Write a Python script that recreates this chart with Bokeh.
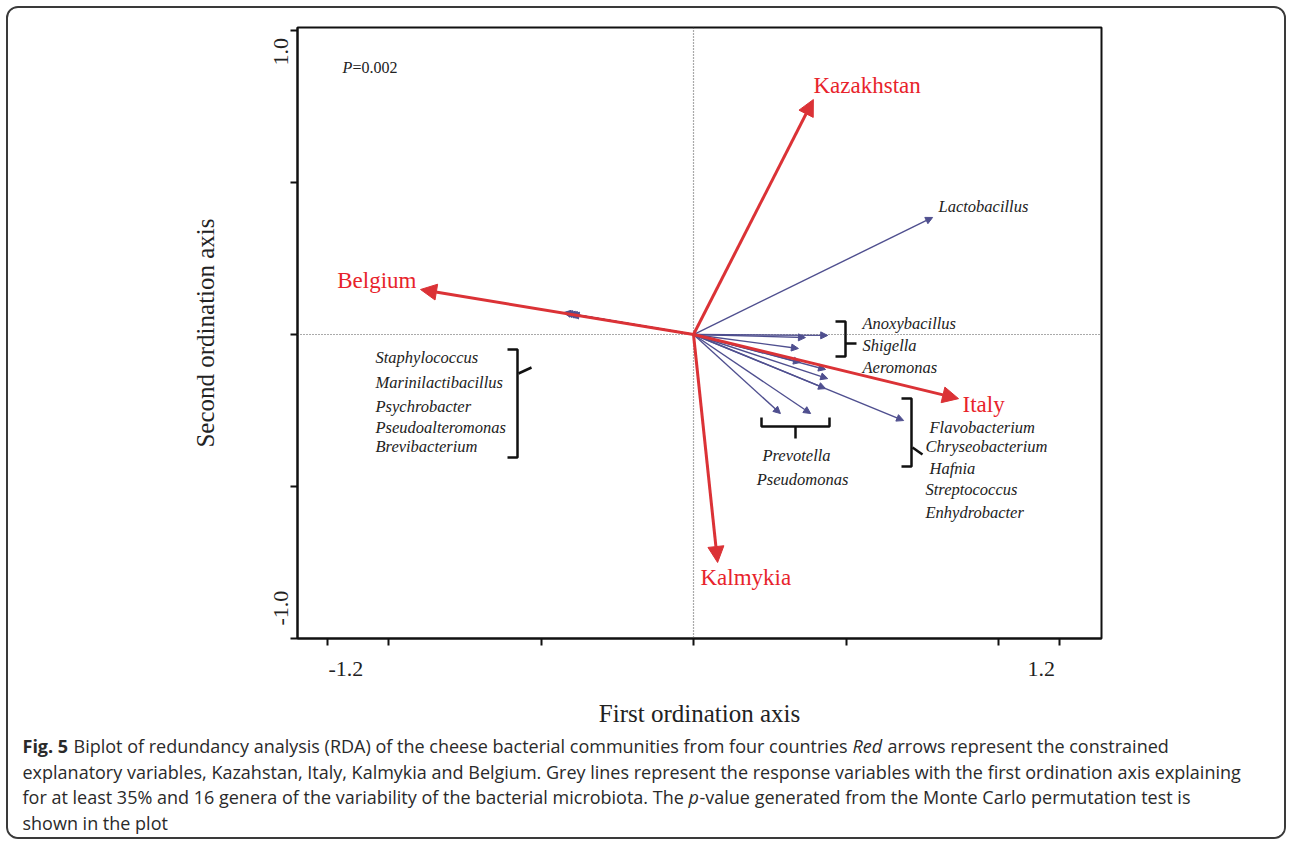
from bokeh.plotting import figure
from bokeh.layouts import column
from bokeh.models import (Arrow, NormalHead, ColumnDataSource, Span,
                          FixedTicker, Range1d)
from bokeh.embed import file_html
from bokeh.resources import INLINE
from bokeh.core.properties import value

# ---------------- data ----------------
countries = ["Kazakhstan", "Italy", "Kalmykia", "Belgium"]
country_x = [0.393, 0.869, 0.079, -0.895]
country_y = [0.773, -0.211, -0.750, 0.148]

genera = ["Lactobacillus", "Anoxybacillus", "Shigella", "Aeromonas",
          "Flavobacterium", "Chryseobacterium", "Hafnia", "Streptococcus",
          "Enhydrobacter", "Prevotella", "Pseudomonas", "Staphylococcus",
          "Marinilactibacillus", "Psychrobacter", "Pseudoalteromonas",
          "Brevibacterium"]
genus_x = [0.784, 0.440, 0.367, 0.344, 0.689, 0.433, 0.440, 0.433, 0.351,
           0.285, 0.384, -0.426, -0.420, -0.412, -0.405, -0.398]
genus_y = [0.385, -0.003, -0.010, -0.046, -0.283, -0.178, -0.145, -0.115,
           -0.092, -0.260, -0.260, 0.072, 0.071, 0.069, 0.068, 0.066]

x_minor_ticks = [-1.2, -1.0, -0.5, 0.0, 0.5, 1.0, 1.2]
y_minor_ticks = [-1.0, -0.5, 0.0, 0.5, 1.0]
x_tick_labels = ["-1.2", "1.2"]
y_tick_labels = ["-1.0", "1.0"]
p_value_text = ["P", "=0.002"]

caption_lines = [
    [("Fig. 5", "bold"),
     ("Biplot of redundancy analysis (RDA) of the cheese bacterial communities from four countries", "normal"),
     ("Red", "italic"),
     ("arrows represent the constrained", "normal")],
    [("explanatory variables, Kazahstan, Italy, Kalmykia and Belgium. Grey lines represent the response variables with the first ordination axis explaining", "normal")],
    [("for at least 35% and 16 genera of the variability of the bacterial microbiota. The", "normal"),
     ("p", "italic"),
     ("-value generated from the Monte Carlo permutation test is", "normal")],
    [("shown in the plot", "normal")],
]

# ---------------- layout ----------------
O = 8                                  # page offset of the figures (margin + border)
W = 1276
HM, HC = 722, 107                      # main figure / caption heights
FL, FR, FT, FB = 297, 1101, 27, 638    # frame edges in page pixels
XMIN, XMAX = -1.2984, 1.3377
YMIN, YMAX = -1.0, 1.0099


def X(px):  # page pixel -> data x
    return XMIN + (px - FL) / (FR - FL) * (XMAX - XMIN)


def Y(py):  # page pixel -> data y
    return YMAX - (py - FT) / (FB - FT) * (YMAX - YMIN)


SERIF = "Liberation Serif"
SANS = "Open Sans"
RED_LINE = "#db3236"
RED_TEXT = "#e8232b"
BLUE = "#4f4f8f"

p = figure(width=W, height=HM, x_range=(XMIN, XMAX), y_range=(YMIN, YMAX),
           output_backend="svg", toolbar_location=None,
           min_border_left=FL - O, min_border_right=W - (FR - O),
           min_border_top=FT - O, min_border_bottom=HM - (FB - O),
           x_axis_label="First ordination axis",
           y_axis_label="Second ordination axis")
p.frame_align = False
p.grid.visible = False
p.outline_line_color = "#111111"
p.outline_line_width = 2
p.background_fill_color = "white"
p.border_fill_color = "white"

# axes: minor ticks are the drawn ticks, major positions carry the labels
x_lab_pos = [-1.14, 1.14]
y_lab_pos = [-0.90, 0.93]
p.xaxis.ticker = FixedTicker(ticks=x_lab_pos, minor_ticks=x_minor_ticks)
p.yaxis.ticker = FixedTicker(ticks=y_lab_pos, minor_ticks=y_minor_ticks)
p.xaxis.major_label_overrides = dict(zip(x_lab_pos, x_tick_labels))
p.yaxis.major_label_overrides = dict(zip(y_lab_pos, y_tick_labels))
p.yaxis.major_label_orientation = "vertical"
for ax in (p.xaxis, p.yaxis):
    ax.axis_line_color = "#111111"
    ax.axis_line_width = 2
    ax.major_tick_line_color = None
    ax.major_tick_out = 7
    ax.major_tick_in = 0
    ax.minor_tick_line_color = "#111111"
    ax.minor_tick_line_width = 2
    ax.minor_tick_out = 7
    ax.minor_tick_in = 0
    ax.major_label_text_font = SERIF
    ax.major_label_text_font_size = "22px"
    ax.major_label_text_color = "#222222"
    ax.axis_label_text_font = SERIF
    ax.axis_label_text_font_size = "25px"
    ax.axis_label_text_font_style = "normal"
    ax.axis_label_text_color = "#222222"
p.xaxis.major_label_standoff = 16
p.yaxis.major_label_standoff = 2
p.xaxis.axis_label_standoff = 21
p.yaxis.axis_label_standoff = 53

# dotted axes through origin
p.add_layout(Span(location=0, dimension="height", line_color="#555555",
                  line_dash="1 2", line_width=1.2))
p.add_layout(Span(location=0, dimension="width", line_color="#555555",
                  line_dash="1 2", line_width=1.2))

# genus arrows (response variables)
gsrc = ColumnDataSource(dict(x0=[0.0] * len(genera), y0=[0.0] * len(genera),
                             x1=genus_x, y1=genus_y))
p.add_layout(Arrow(source=gsrc, x_start="x0", y_start="y0", x_end="x1", y_end="y1",
                   line_color=BLUE, line_width=1.4,
                   end=NormalHead(size=7, fill_color=BLUE, line_color=BLUE, line_width=1)))

# country arrows (explanatory variables)
csrc = ColumnDataSource(dict(x0=[0.0] * len(countries), y0=[0.0] * len(countries),
                             x1=country_x, y1=country_y))
p.add_layout(Arrow(source=csrc, x_start="x0", y_start="y0", x_end="x1", y_end="y1",
                   line_color=RED_LINE, line_width=3,
                   end=NormalHead(size=16, fill_color=RED_LINE, line_color=RED_LINE,
                                  line_width=1)))

# country labels
country_lab = dict(
    x=[X(813), X(962), X(700), X(416)],
    y=[Y(85), Y(404), Y(577), Y(280)],
    align=["left", "left", "left", "right"],
)
p.text(x=country_lab["x"], y=country_lab["y"], text=countries,
       text_align=country_lab["align"], text_baseline="middle",
       text_font=value(SERIF), text_font_size="23px", text_color=RED_TEXT)

# genus labels
genus_lab = dict(
    x=[X(938), X(862), X(862), X(862), X(929), X(925), X(929), X(925), X(925),
       X(796), X(802), X(375), X(375), X(375), X(375), X(375)],
    y=[Y(206), Y(323), Y(345), Y(367), Y(427), Y(446), Y(468), Y(489), Y(512),
       Y(455), Y(479), Y(357), Y(382), Y(406), Y(427), Y(446)],
    align=["left"] * 9 + ["center", "center"] + ["left"] * 5,
)
p.text(x=genus_lab["x"], y=genus_lab["y"], text=genera,
       text_align=genus_lab["align"], text_baseline="middle",
       text_font=value(SERIF), text_font_style="italic",
       text_font_size="16.5px", text_color="#222222")

# group brackets
brackets = [
    [(507, 349), (517, 349), (517, 457), (507, 457)],
    [(518, 373), (531, 367)],
    [(835, 321), (845, 321), (845, 356), (835, 356)],
    [(845, 343), (856, 343)],
    [(761, 417), (761, 426), (829, 426), (829, 417)],
    [(795, 426), (795, 438)],
    [(901, 398), (911, 398), (911, 466), (901, 466)],
    [(912, 447), (922, 454)],
]
p.multi_line(xs=[[X(a) for a, b in br] for br in brackets],
             ys=[[Y(b) for a, b in br] for br in brackets],
             line_color="#111111", line_width=2.5)

# P value
p.text(x=[X(342)], y=[Y(67)], text=[p_value_text[0]], text_baseline="middle",
       text_font=value(SERIF), text_font_style="italic", text_font_size="16px",
       text_color="#222222")
p.text(x=[X(352)], y=[Y(67)], text=[p_value_text[1]], text_baseline="middle",
       text_font=value(SERIF), text_font_size="16px", text_color="#222222")

# ---------------- caption (second figure, pixel coordinates) ----------------
c = figure(width=W, height=HC, x_range=Range1d(0, W), y_range=Range1d(HC, 0),
           output_backend="svg", toolbar_location=None, min_border=0,
           x_axis_location=None, y_axis_location=None)
c.frame_align = False
c.grid.visible = False
c.outline_line_color = None
c.background_fill_color = "white"
c.border_fill_color = "white"

seg_x = [[22, 73, 852, 887], [22], [22, 688, 699], [22]]
line_y = [745, 771, 796, 822]
cap_top = O + HM
for segs, xs, ly in zip(caption_lines, seg_x, line_y):
    for (txt, style), sx in zip(segs, xs):
        c.text(x=[sx - O], y=[ly - cap_top], text=[txt], text_baseline="middle",
               text_align="left", text_font=value(SANS), text_font_style=style,
               text_font_size="18px", text_color="#2a2a2a")

layout = column(p, c, spacing=0,
                styles={"margin": "6px", "border": "2px solid #3a3a3a",
                        "border-radius": "12px", "overflow": "hidden"})

open("out.html", "w").write(file_html(layout, INLINE))
